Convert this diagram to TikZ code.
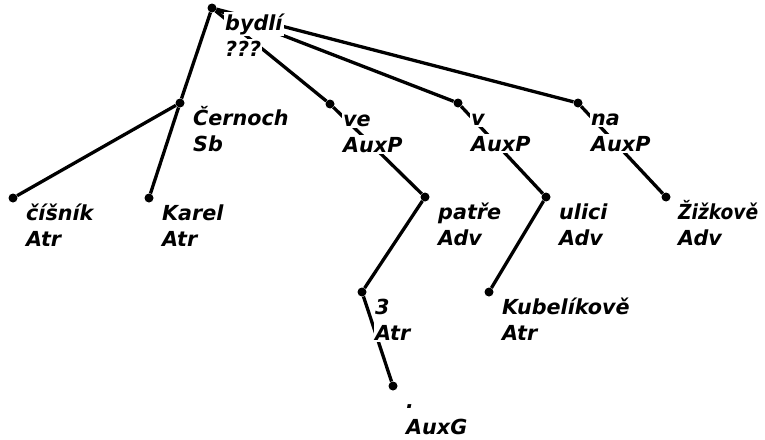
\documentclass[tikz,border=0pt]{standalone}
\usepackage{fontspec}
\setmainfont{DejaVu Sans}
\begin{document}
\begin{tikzpicture}[x=1pt,y=-1pt,
    knot/.style={circle, fill=black, inner sep=0pt, minimum size=9pt},
    edge/.style={line width=3.3pt},
    lbl/.style={anchor=base west, fill=white, inner xsep=1pt, inner ysep=1.5pt, font=\fontsize{20.7}{24}\selectfont\bfseries\itshape}]
    \useasboundingbox (0,0) rectangle (765,439);
    % knots of the tree
    \node[knot] (byd) at (212,8) {};
    \node[knot] (cer) at (180,103) {};
    \node[knot] (cis) at (13,198) {};
    \node[knot] (kar) at (149,198) {};
    \node[knot] (ve) at (330,104) {};
    \node[knot] (v) at (458,103) {};
    \node[knot] (na) at (578,103) {};
    \node[knot] (pat) at (425,197) {};
    \node[knot] (uli) at (546,197) {};
    \node[knot] (ziz) at (666,197) {};
    \node[knot] (tri) at (362,292) {};
    \node[knot] (kub) at (489,292) {};
    \node[knot] (pun) at (393,386) {};
    % edges
    \draw[edge] (byd) -- (cer);
    \draw[edge] (byd) -- (ve);
    \draw[edge] (byd) -- (v);
    \draw[edge] (byd) -- (na);
    \draw[edge] (cer) -- (cis);
    \draw[edge] (cer) -- (kar);
    \draw[edge] (ve) -- (pat);
    \draw[edge] (pat) -- (tri);
    \draw[edge] (tri) -- (pun);
    \draw[edge] (v) -- (uli);
    \draw[edge] (uli) -- (kub);
    \draw[edge] (na) -- (ziz);
    % labels: word form and afun
    \node[lbl] (byd-w) at ([shift={(12,22.5)}]byd) {bydlí};
    \node[lbl] (byd-a) at ([shift={(12,48)}]byd) {???};
    \node[lbl] (cer-w) at ([shift={(12,22.5)}]cer) {Černoch};
    \node[lbl] (cer-a) at ([shift={(12,48)}]cer) {Sb};
    \node[lbl] (cis-w) at ([shift={(12,22.5)}]cis) {číšník};
    \node[lbl] (cis-a) at ([shift={(12,48)}]cis) {Atr};
    \node[lbl] (kar-w) at ([shift={(12,22.5)}]kar) {Karel};
    \node[lbl] (kar-a) at ([shift={(12,48)}]kar) {Atr};
    \node[lbl] (ve-w) at ([shift={(12,22.5)}]ve) {ve};
    \node[lbl] (ve-a) at ([shift={(12,48)}]ve) {AuxP};
    \node[lbl] (v-w) at ([shift={(12,22.5)}]v) {v};
    \node[lbl] (v-a) at ([shift={(12,48)}]v) {AuxP};
    \node[lbl] (na-w) at ([shift={(12,22.5)}]na) {na};
    \node[lbl] (na-a) at ([shift={(12,48)}]na) {AuxP};
    \node[lbl] (pat-w) at ([shift={(12,22.5)}]pat) {patře};
    \node[lbl] (pat-a) at ([shift={(12,48)}]pat) {Adv};
    \node[lbl] (uli-w) at ([shift={(12,22.5)}]uli) {ulici};
    \node[lbl] (uli-a) at ([shift={(12,48)}]uli) {Adv};
    \node[lbl] (ziz-w) at ([shift={(11,22.5)}]ziz) {\scalebox{0.9}[1]{Žižkově}};
    \node[lbl] (ziz-a) at ([shift={(11,48)}]ziz) {Adv};
    \node[lbl] (tri-w) at ([shift={(12,22.5)}]tri) {3};
    \node[lbl] (tri-a) at ([shift={(12,48)}]tri) {Atr};
    \node[lbl] (kub-w) at ([shift={(12,22.5)}]kub) {Kubelíkově};
    \node[lbl] (kub-a) at ([shift={(12,48)}]kub) {Atr};
    \node[lbl] (pun-w) at ([shift={(12,22.5)}]pun) {.};
    \node[lbl] (pun-a) at ([shift={(12,48)}]pun) {AuxG};
\end{tikzpicture}
\end{document}
